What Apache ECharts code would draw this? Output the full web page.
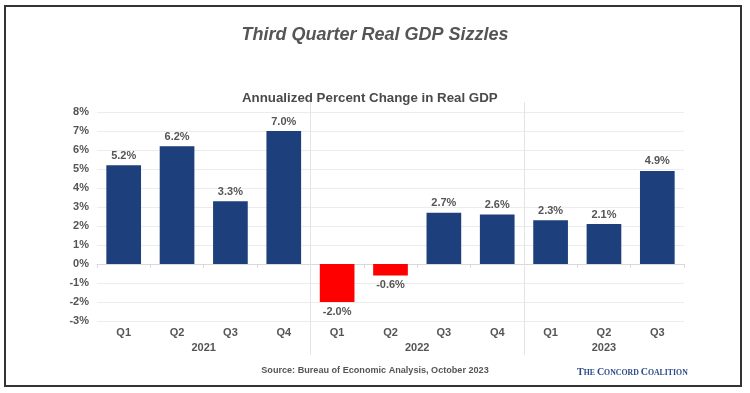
<!DOCTYPE html>
<html>
<head>
<meta charset="utf-8">
<script src="https://cdn.jsdelivr.net/npm/echarts@6/dist/echarts.min.js"></script>
<style>html,body{margin:0;padding:0;background:#fff}#c{width:750px;height:393px}</style>
</head>
<body>
<div id="c"></div>
<script>
const quarters = ['Q1','Q2','Q3','Q4','Q1','Q2','Q3','Q4','Q1','Q2','Q3'];
const gdpChange = [5.2, 6.2, 3.3, 7.0, -2.0, -0.6, 2.7, 2.6, 2.3, 2.1, 4.9];
const years = ['2021','2022','2023'];
const quartersPerYear = [4, 4, 3];
const yTicks = [-3,-2,-1,0,1,2,3,4,5,6,7,8];

// year label centres and separators computed from counts
const yearCenters = [];
const yearBounds = [];
let acc = 0;
quartersPerYear.forEach((n, i) => {
  yearCenters.push(acc + n / 2);
  acc += n;
  if (i < quartersPerYear.length - 1) yearBounds.push(acc);
});

const FONT = "'Liberation Sans', Arial, Helvetica, sans-serif";
const SERIF = "'Liberation Serif', 'Times New Roman', serif";
const GRAY = '#555';
const BLUE = '#1d3f7b';
const RED = '#ff0000';

const barData = gdpChange.map(v => ({
  value: v,
  itemStyle: { color: v < 0 ? RED : BLUE },
  label: { position: v < 0 ? 'bottom' : 'top' }
}));

const chart = echarts.init(document.getElementById('c'), null, { renderer: 'canvas' });
chart.setOption({
  animation: false,
  backgroundColor: '#fff',
  title: [
    { text: 'Third Quarter Real GDP Sizzles', left: 'center', top: 21,
      textStyle: { fontFamily: FONT, fontSize: 18, fontWeight: 'bold', fontStyle: 'italic', color: GRAY } },
    { text: 'Annualized Percent Change in Real GDP', left: 237, top: 87,
      textStyle: { fontFamily: FONT, fontSize: 13.3, fontWeight: 'bold', color: '#4a4a4a' } },
    { text: 'Source: Bureau of Economic Analysis, October 2023', left: 'center', top: 361,
      textStyle: { fontFamily: FONT, fontSize: 9.1, fontWeight: 'bold', color: GRAY } },
    { text: '{b|T}{s|HE }{b|C}{s|ONCORD }{b|C}{s|OALITION}', left: 572, top: 360,
      textStyle: { rich: {
        b: { fontFamily: SERIF, fontSize: 10, fontWeight: 'bold', color: '#2a4a8c', verticalAlign: 'bottom', lineHeight: 12 },
        s: { fontFamily: SERIF, fontSize: 7.8, fontWeight: 'bold', color: '#2a4a8c', verticalAlign: 'bottom', lineHeight: 10 }
      } } }
  ],
  graphic: [
    { type: 'rect', shape: { x: 5, y: 6, width: 736, height: 380 },
      style: { fill: 'none', stroke: '#333', lineWidth: 2 }, silent: true }
  ],
  grid: { left: 97, right: 66, top: 112, bottom: 72, containLabel: false },
  xAxis: [
    { type: 'category', data: quarters, position: 'bottom',
      axisLine: { show: true, onZero: true, lineStyle: { color: '#d9d9d9', width: 1 } },
      axisTick: { show: true, length: 4, lineStyle: { color: '#d9d9d9' } },
      axisLabel: { show: false }, splitLine: { show: false } },
    { type: 'category', data: quarters, position: 'bottom',
      axisLine: { show: false, onZero: false }, axisTick: { show: false },
      axisLabel: { show: true, margin: 6, fontFamily: FONT, fontSize: 11, fontWeight: 'bold', color: GRAY },
      splitLine: { show: false } },
    { type: 'value', min: 0, max: quarters.length, position: 'bottom', offset: 34,
      axisLine: { show: false, onZero: false },
      axisTick: { show: true, inside: true, length: 253, customValues: yearBounds,
        lineStyle: { color: '#e4e4e4', width: 1 } },
      axisLabel: { show: true, inside: true, margin: 2, customValues: yearCenters,
        formatter: v => { const i = yearCenters.indexOf(v); return i >= 0 ? years[i] : ''; },
        fontFamily: FONT, fontSize: 11, fontWeight: 'bold', color: GRAY },
      splitLine: { show: false } }
  ],
  yAxis: {
    type: 'value', min: yTicks[0], max: yTicks[yTicks.length - 1], interval: 1,
    axisLine: { show: false }, axisTick: { show: false },
    axisLabel: { formatter: '{value}%', margin: 8, fontFamily: FONT, fontSize: 11, fontWeight: 'bold', color: GRAY },
    splitLine: { show: true, lineStyle: { color: '#ececec', width: 1 } }
  },
  series: [{
    type: 'bar', xAxisIndex: 0, data: barData, barWidth: '65%',
    label: { show: true, formatter: p => p.value.toFixed(1) + '%', distance: 4,
      fontFamily: FONT, fontSize: 11, fontWeight: 'bold', color: GRAY }
  }]
});
</script>
</body>
</html>
